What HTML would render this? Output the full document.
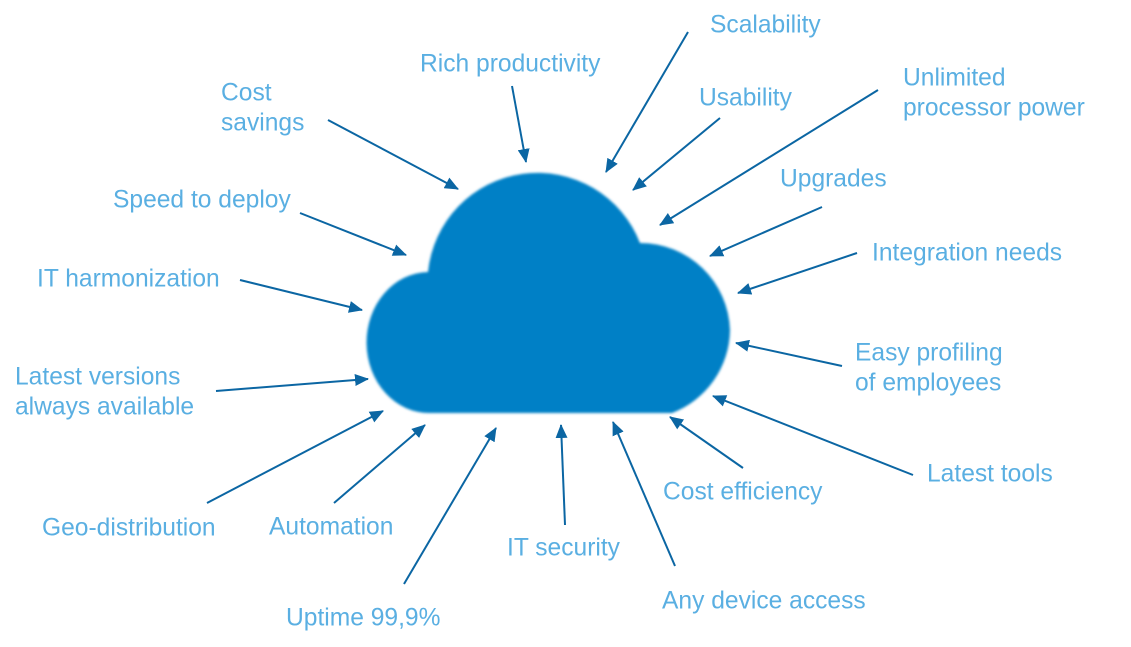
<!DOCTYPE html>
<html><head><meta charset="utf-8"><style>
html,body{margin:0;padding:0;background:#fff;}
svg{display:block}
text{font-family:"Liberation Sans",Arial,sans-serif;font-size:24.6px;fill:#5aafe2;dominant-baseline:middle}
line{stroke:#0b66a3;stroke-width:2}
</style></head><body>
<svg width="1131" height="647" viewBox="0 0 1131 647" xmlns="http://www.w3.org/2000/svg">
<defs>
<marker id="a" markerWidth="14" markerHeight="12" refX="13" refY="6" orient="auto" markerUnits="userSpaceOnUse">
<path d="M0,0 L14,6 L0,12 z" fill="#0b66a3"/>
</marker>
<filter id="b"><feGaussianBlur stdDeviation="1.2"/></filter>
</defs>
<path filter="url(#b)" fill="#0180c6" d="M428 272 A110 110 0 0 1 640 243 A90 90 0 0 1 730 330 A90 90 0 0 1 672 413 L430 413 A62 70 0 0 1 428 272 Z"/>
<g>
<line x1="688" y1="32" x2="606" y2="172" marker-end="url(#a)"/>
<line x1="512" y1="86" x2="526" y2="162" marker-end="url(#a)"/>
<line x1="328" y1="120" x2="458" y2="189" marker-end="url(#a)"/>
<line x1="720" y1="118" x2="633" y2="190" marker-end="url(#a)"/>
<line x1="878" y1="90" x2="660" y2="225" marker-end="url(#a)"/>
<line x1="822" y1="207" x2="710" y2="256" marker-end="url(#a)"/>
<line x1="300" y1="213" x2="406" y2="255" marker-end="url(#a)"/>
<line x1="857" y1="253" x2="738" y2="293" marker-end="url(#a)"/>
<line x1="240" y1="280" x2="362" y2="310" marker-end="url(#a)"/>
<line x1="842" y1="366" x2="736" y2="343" marker-end="url(#a)"/>
<line x1="216" y1="391" x2="368" y2="379" marker-end="url(#a)"/>
<line x1="207" y1="503" x2="383" y2="411" marker-end="url(#a)"/>
<line x1="334" y1="503" x2="425" y2="425" marker-end="url(#a)"/>
<line x1="404" y1="584" x2="496" y2="428" marker-end="url(#a)"/>
<line x1="565" y1="525" x2="561" y2="425" marker-end="url(#a)"/>
<line x1="675" y1="566" x2="613" y2="422" marker-end="url(#a)"/>
<line x1="743" y1="468" x2="670" y2="417" marker-end="url(#a)"/>
<line x1="913" y1="475" x2="713" y2="396" marker-end="url(#a)"/>
</g>
<text x="710" y="26">Scalability</text>
<text x="420" y="65">Rich productivity</text>
<text x="221" y="94">Cost</text>
<text x="221" y="124">savings</text>
<text x="699" y="99">Usability</text>
<text x="903" y="79">Unlimited</text>
<text x="903" y="109">processor power</text>
<text x="780" y="180">Upgrades</text>
<text x="113" y="201">Speed to deploy</text>
<text x="872" y="254">Integration needs</text>
<text x="37" y="280">IT harmonization</text>
<text x="855" y="354">Easy profiling</text>
<text x="855" y="384">of employees</text>
<text x="15" y="378">Latest versions</text>
<text x="15" y="408">always available</text>
<text x="927" y="475">Latest tools</text>
<text x="663" y="493">Cost efficiency</text>
<text x="42" y="529">Geo-distribution</text>
<text x="269" y="528">Automation</text>
<text x="507" y="549">IT security</text>
<text x="662" y="602">Any device access</text>
<text x="286" y="619">Uptime 99,9%</text>
</svg>
</body></html>
